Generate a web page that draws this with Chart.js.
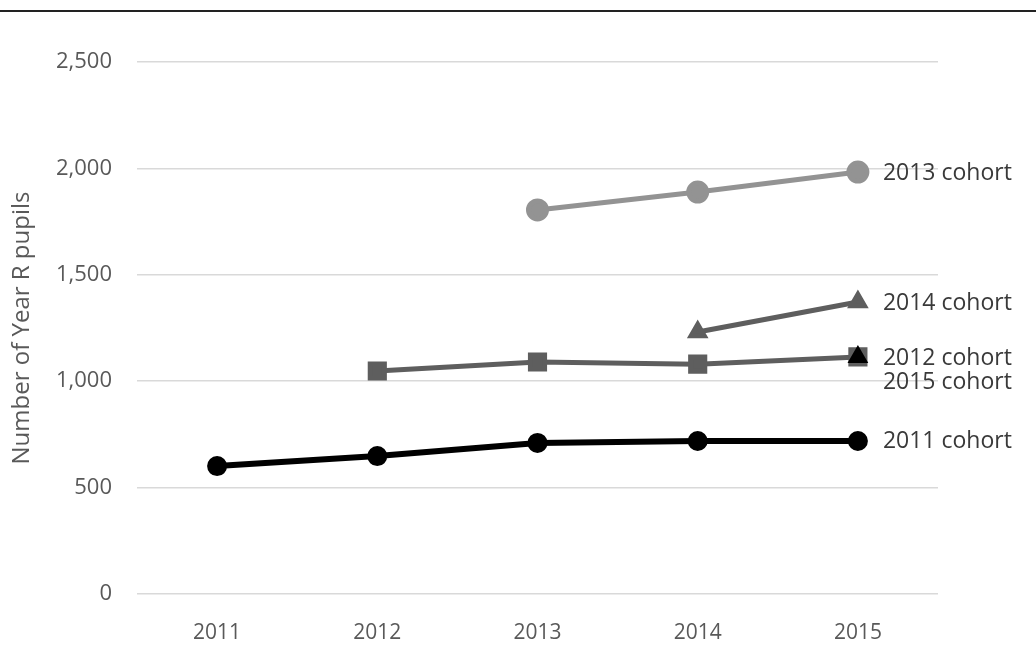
<!DOCTYPE html>
<html><head><meta charset="utf-8">
<script src="https://cdn.jsdelivr.net/npm/chart.js@4"></script>
<style>
html,body{margin:0;padding:0;background:#fff;}
#wrap{position:relative;width:1036px;height:645px;}
#topline{position:absolute;left:0;top:10px;width:1036px;height:0;border-top:2px solid #222;}
canvas{position:absolute;left:0;top:0;}
</style></head>
<body>
<div id="wrap"><canvas id="c" width="1036" height="645"></canvas><div id="topline"></div></div>
<script>
const years = ["2011","2012","2013","2014","2015"];
const cohort2011 = [601, 648, 710, 719, 719];
const cohort2012 = [null, 1048, 1090, 1080, 1114];
const cohort2013 = [null, null, 1805, 1889, 1983];
const cohort2014 = [null, null, null, 1231, 1372];
const cohort2015 = [null, null, null, null, 1114];
const seriesNames = ["2011 cohort","2012 cohort","2013 cohort","2014 cohort","2015 cohort"];
const yTicks = [0, 500, 1000, 1500, 2000, 2500];
const yTitle = "Number of Year R pupils";

const labelOffsets = [0, 2, 1, 1, 26];
const endLabels = {
  id: 'endLabels',
  afterDatasetsDraw(chart) {
    const ctx = chart.ctx;
    ctx.save();
    ctx.font = '23px "Open Sans"';
    ctx.fillStyle = '#3a3a3a';
    ctx.textBaseline = 'middle';
    ctx.textAlign = 'left';
    chart.data.datasets.forEach((ds, i) => {
      const meta = chart.getDatasetMeta(i);
      const pt = meta.data[meta.data.length - 1];
      ctx.fillText(ds.label, pt.x + 25, pt.y + labelOffsets[i]);
    });
    ctx.restore();
  }
};

new Chart(document.getElementById('c'), {
  type: 'line',
  data: {
    labels: years,
    datasets: [
      {label: seriesNames[0], data: cohort2011, borderColor:'#000', backgroundColor:'#000', borderWidth:6, pointStyle:'circle', pointRadius:7},
      {label: seriesNames[1], data: cohort2012, borderColor:'#5e5e5e', backgroundColor:'#5e5e5e', borderWidth:5, pointStyle:'rect', pointRadius:10},
      {label: seriesNames[2], data: cohort2013, borderColor:'#939393', backgroundColor:'#939393', borderWidth:5, pointStyle:'circle', pointRadius:9},
      {label: seriesNames[3], data: cohort2014, borderColor:'#5e5e5e', backgroundColor:'#5e5e5e', borderWidth:5, pointStyle:'triangle', pointRadius:7.5},
      {label: seriesNames[4], data: cohort2015, borderColor:'#000', backgroundColor:'#000', borderWidth:5, pointStyle:'triangle', pointRadius:7, order: -1}
    ]
  },
  options: {
    responsive: false,
    animation: false,
    spanGaps: false,
    layout: {padding: {left: 0, right: 98, top: 62, bottom: 0}},
    plugins: {legend: {display: false}, tooltip: {enabled: false}},
    elements: {line: {tension: 0}},
    scales: {
      x: {
        offset: true,
        grid: {display: false, drawTicks: false},
        border: {display: false},
        ticks: {color: '#595959', font: {family: '"Open Sans"', size: 21}, padding: 26, maxRotation: 0},
        afterFit: s => { s.height = 51; }
      },
      y: {
        min: 0, max: 2500,
        afterBuildTicks: s => { s.ticks = yTicks.map(v => ({value: v})); },
        grid: {color: '#d9d9d9', lineWidth: 1.5, drawTicks: false},
        border: {display: false},
        ticks: {color: '#595959', font: {family: '"Open Sans"', size: 22}, padding: 25,
          callback: v => v.toLocaleString('en-US')},
        title: {display: true, text: yTitle, color: '#595959', font: {family: '"Open Sans"', size: 24}, padding: {top: 8, bottom: 4}},
        afterFit: s => { s.width = 137; }
      }
    }
  },
  plugins: [endLabels]
});
</script>
</body></html>
